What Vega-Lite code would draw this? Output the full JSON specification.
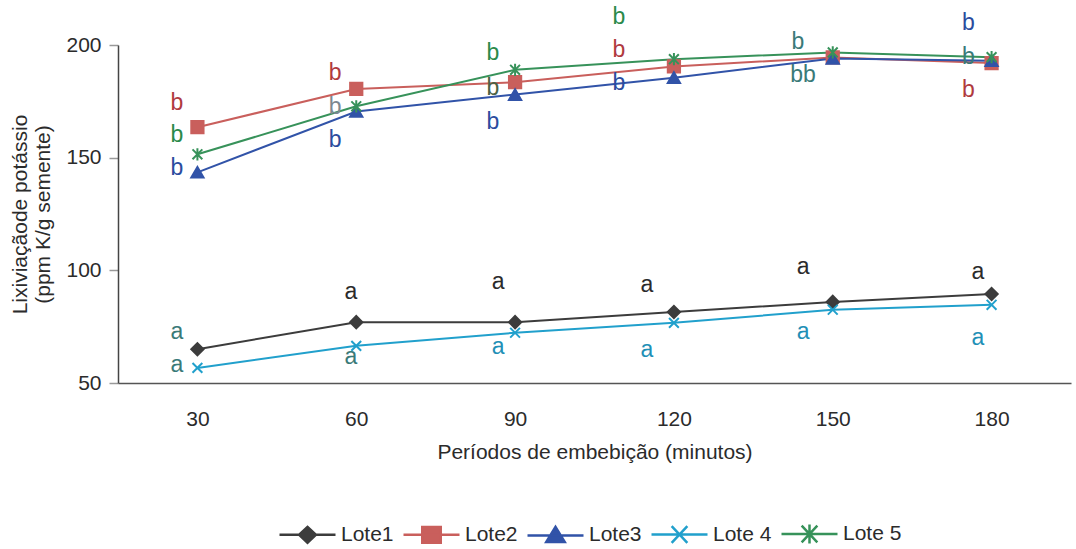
{
  "$schema": "https://vega.github.io/schema/vega-lite/v6.json",
  "width": 953,
  "height": 338,
  "autosize": {"type": "none"},
  "padding": {"left": 118, "top": 45, "right": 5, "bottom": 166},
  "background": "white",
  "config": {
    "font": "Liberation Sans",
    "view": {"stroke": null},
    "axis": {"grid": false, "labelFont": "Liberation Sans", "titleFont": "Liberation Sans", "labelColor": "#2b2b2b", "titleColor": "#2b2b2b", "titleFontWeight": "normal", "labelFontSize": 21, "titleFontSize": 21},
    "axisX": {"domainColor": "#555555", "domainWidth": 1.5, "ticks": false, "tickSize": 0, "labelPadding": 25, "titlePadding": 12, "labelAngle": 0},
    "axisY": {"domainColor": "#444444", "domainWidth": 1.5, "tickColor": "#999999", "tickSize": 9, "tickWidth": 1.5, "labelPadding": 8, "titlePadding": 12, "titleLineHeight": 23}
  },
  "layer": [
    {
      "data": {"values": [
        {"lote": "Lote1", "min": 30, "valor": 65}, {"lote": "Lote1", "min": 60, "valor": 77}, {"lote": "Lote1", "min": 90, "valor": 77}, {"lote": "Lote1", "min": 120, "valor": 81.5}, {"lote": "Lote1", "min": 150, "valor": 86}, {"lote": "Lote1", "min": 180, "valor": 89.5},
        {"lote": "Lote2", "min": 30, "valor": 163.5}, {"lote": "Lote2", "min": 60, "valor": 180.5}, {"lote": "Lote2", "min": 90, "valor": 183.5}, {"lote": "Lote2", "min": 120, "valor": 190.5}, {"lote": "Lote2", "min": 150, "valor": 194.5}, {"lote": "Lote2", "min": 180, "valor": 192},
        {"lote": "Lote3", "min": 30, "valor": 143.5}, {"lote": "Lote3", "min": 60, "valor": 170.5}, {"lote": "Lote3", "min": 90, "valor": 178}, {"lote": "Lote3", "min": 120, "valor": 185.5}, {"lote": "Lote3", "min": 150, "valor": 194}, {"lote": "Lote3", "min": 180, "valor": 193},
        {"lote": "Lote 4", "min": 30, "valor": 56.7}, {"lote": "Lote 4", "min": 60, "valor": 66.5}, {"lote": "Lote 4", "min": 90, "valor": 72.3}, {"lote": "Lote 4", "min": 120, "valor": 76.7}, {"lote": "Lote 4", "min": 150, "valor": 82.5}, {"lote": "Lote 4", "min": 180, "valor": 84.7},
        {"lote": "Lote 5", "min": 30, "valor": 151.5}, {"lote": "Lote 5", "min": 60, "valor": 172.8}, {"lote": "Lote 5", "min": 90, "valor": 189}, {"lote": "Lote 5", "min": 120, "valor": 193.7}, {"lote": "Lote 5", "min": 150, "valor": 196.7}, {"lote": "Lote 5", "min": 180, "valor": 194.6}
      ]},
      "encoding": {
        "x": {"field": "min", "type": "quantitative", "scale": {"domain": [15, 195], "nice": false, "zero": false}, "axis": {"values": [30, 60, 90, 120, 150, 180], "title": "Períodos de embebição (minutos)"}},
        "y": {"field": "valor", "type": "quantitative", "scale": {"domain": [50, 200], "nice": false, "zero": false}, "axis": {"values": [50, 100, 150, 200], "title": ["Lixiviaçãode potássio", "(ppm K/g semente)"]}},
        "color": {
          "field": "lote", "type": "nominal",
          "scale": {"domain": ["Lote1", "Lote2", "Lote3", "Lote 4", "Lote 5"], "range": ["#3c3c3c", "#c95f5c", "#3153a8", "#21a0cc", "#37925a"]},
          "legend": {
            "title": null, "orient": "none", "direction": "horizontal", "columns": 5, "legendX": 160, "legendY": 459,
            "labelFont": "Liberation Sans", "labelFontSize": 21, "labelColor": "#2b2b2b", "labelOffset": 4, "columnPadding": 4,
            "symbolSize": 3136, "symbolStrokeWidth": 2.5,
            "encode": {"symbols": {"update": {
              "shape": {"signal": "datum.value === 'Lote1' ? 'M-1,0L1,0M0,-0.28L0.3,0L0,0.28L-0.3,0Z' : datum.value === 'Lote2' ? 'M-1,0L1,0M-0.33,-0.28L0.33,-0.28L0.33,0.28L-0.33,0.28Z' : datum.value === 'Lote3' ? 'M-1,0L1,0M0,-0.3L0.33,0.24L-0.33,0.24Z' : datum.value === 'Lote 4' ? 'M-1,0L1,0M-0.28,-0.3L0.28,0.3M-0.28,0.3L0.28,-0.3' : 'M-1,0L1,0M-0.28,-0.3L0.28,0.3M-0.28,0.3L0.28,-0.3M0,-0.34L0,0.34'"},
              "size": {"value": 3136},
              "fill": {"scale": "color", "field": "value"},
              "stroke": {"scale": "color", "field": "value"},
              "strokeWidth": {"value": 2.5},
              "opacity": {"value": 1}
            }}}
          }
        }
      },
      "layer": [
        {"mark": {"type": "line", "strokeWidth": 2}},
        {
          "mark": {"type": "point", "filled": true, "opacity": 1, "size": 150, "strokeWidth": 2},
          "encoding": {
            "shape": {"field": "lote", "type": "nominal", "legend": null, "scale": {"domain": ["Lote1", "Lote2", "Lote3", "Lote 4", "Lote 5"], "range": ["diamond", "square", "triangle-up", "M-0.8,-0.8L0.8,0.8M-0.8,0.8L0.8,-0.8", "M-0.8,-0.8L0.8,0.8M-0.8,0.8L0.8,-0.8M0,-1L0,1"]}},
            "stroke": {"field": "lote", "type": "nominal", "legend": null, "scale": {"domain": ["Lote1", "Lote2", "Lote3", "Lote 4", "Lote 5"], "range": ["#3c3c3c", "#c95f5c", "#3153a8", "#21a0cc", "#37925a"]}}
          }
        }
      ]
    },
    {
      "data": {"values": [
        {"x": 26.1, "y": 174.2, "letra": "b", "cor": "vermelho"},
        {"x": 26.1, "y": 160.0, "letra": "b", "cor": "verde"},
        {"x": 26.1, "y": 145.4, "letra": "b", "cor": "azul"},
        {"x": 56.0, "y": 187.6, "letra": "b", "cor": "vermelho"},
        {"x": 56.0, "y": 172.5, "letra": "b", "cor": "cinza"},
        {"x": 56.0, "y": 157.8, "letra": "b", "cor": "azul"},
        {"x": 85.8, "y": 196.4, "letra": "b", "cor": "verde"},
        {"x": 85.8, "y": 180.9, "letra": "b", "cor": "oliva"},
        {"x": 85.8, "y": 165.8, "letra": "b", "cor": "azul"},
        {"x": 109.6, "y": 212.4, "letra": "b", "cor": "verde"},
        {"x": 109.6, "y": 197.8, "letra": "b", "cor": "vermelho"},
        {"x": 109.6, "y": 183.1, "letra": "b", "cor": "azul"},
        {"x": 143.4, "y": 201.3, "letra": "b", "cor": "teal"},
        {"x": 144.4, "y": 186.7, "letra": "bb", "cor": "teal"},
        {"x": 175.6, "y": 209.8, "letra": "b", "cor": "azul"},
        {"x": 175.6, "y": 194.7, "letra": "b", "cor": "teal"},
        {"x": 175.6, "y": 180.0, "letra": "b", "cor": "vermelho"},
        {"x": 26.1, "y": 72.5, "letra": "a", "cor": "teal"},
        {"x": 26.1, "y": 57.8, "letra": "a", "cor": "teal"},
        {"x": 59.0, "y": 90.3, "letra": "a", "cor": "preto"},
        {"x": 59.0, "y": 61.4, "letra": "a", "cor": "teal"},
        {"x": 86.8, "y": 94.7, "letra": "a", "cor": "preto"},
        {"x": 86.8, "y": 65.8, "letra": "a", "cor": "ciano"},
        {"x": 114.9, "y": 93.4, "letra": "a", "cor": "preto"},
        {"x": 114.9, "y": 64.5, "letra": "a", "cor": "ciano"},
        {"x": 144.4, "y": 101.4, "letra": "a", "cor": "preto"},
        {"x": 144.4, "y": 72.5, "letra": "a", "cor": "ciano"},
        {"x": 177.4, "y": 99.2, "letra": "a", "cor": "preto"},
        {"x": 177.4, "y": 69.8, "letra": "a", "cor": "ciano"}
      ]},
      "mark": {"type": "text", "font": "Liberation Sans", "fontSize": 23, "align": "center", "baseline": "middle"},
      "encoding": {
        "x": {"field": "x", "type": "quantitative", "axis": {"values": [30, 60, 90, 120, 150, 180], "title": "Períodos de embebição (minutos)"}},
        "y": {"field": "y", "type": "quantitative", "axis": {"values": [50, 100, 150, 200], "title": ["Lixiviaçãode potássio", "(ppm K/g semente)"]}},
        "text": {"field": "letra"},
        "color": {"field": "cor", "type": "nominal", "legend": null, "scale": {"domain": ["vermelho", "verde", "azul", "cinza", "oliva", "teal", "preto", "ciano"], "range": ["#b03a3e", "#2a8a4a", "#2b4c9e", "#7d8890", "#4a6244", "#3a7a78", "#2b2b2b", "#1f90b6"]}}
      }
    }
  ],
  "resolve": {"scale": {"color": "independent"}}
}
